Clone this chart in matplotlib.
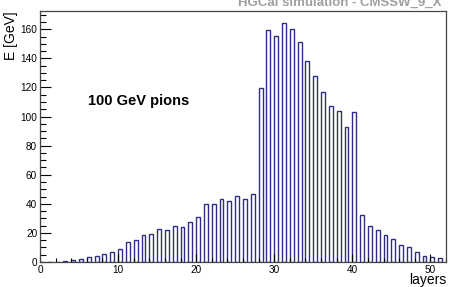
import matplotlib
matplotlib.use("Agg")
import matplotlib.pyplot as plt
from matplotlib.ticker import MultipleLocator

layers = list(range(52))
energy = [0, 0, 0, 0.7, 1.4, 2.1, 3.1, 4.0, 5.2, 7.2,
          9.2, 13.7, 15.3, 18.4, 19.1, 22.4, 21.8, 25.0, 24.4, 27.2,
          31.2, 40.2, 39.8, 43.5, 42.2, 45.1, 43.5, 46.5, 119.4, 159.4,
          155.5, 164.4, 159.9, 151.0, 137.9, 127.8, 117.1, 107.1, 104.1, 92.7,
          103.4, 32.2, 24.9, 21.7, 18.3, 15.5, 11.4, 10.0, 6.8, 4.3,
          3.2, 2.5]

plt.rcParams['font.family'] = ['Liberation Sans', 'DejaVu Sans']

fig = plt.figure(figsize=(4.49, 2.87), dpi=100)
ax = fig.add_axes([40/449, 25/287, 406/449, 251/287])

ax.bar(layers, energy, width=0.5, align='edge', facecolor='white',
       edgecolor='#2e2e86', linewidth=1.0)

ax.set_xlim(0, 52)
ax.set_ylim(0, 172.6)

ax.xaxis.set_major_locator(MultipleLocator(10))
ax.xaxis.set_minor_locator(MultipleLocator(2))
ax.yaxis.set_major_locator(MultipleLocator(20))
ax.yaxis.set_minor_locator(MultipleLocator(5))

ax.tick_params(axis='x', which='major', direction='in', length=6, width=0.8,
               labelsize=7.2, pad=2, top=False)
ax.tick_params(axis='x', which='minor', direction='in', length=3, width=0.8, top=False)
ax.tick_params(axis='y', which='major', direction='in', length=8, width=0.8,
               labelsize=7.2, pad=2, right=False)
ax.tick_params(axis='y', which='minor', direction='in', length=4, width=0.8, right=False)

for s in ax.spines.values():
    s.set_color('#444444')
    s.set_linewidth(0.9)

ax.set_xlabel('layers', fontsize=10, loc='right', labelpad=-1)
ax.set_ylabel('E [GeV]', fontsize=10, loc='top')
ax.yaxis.set_label_coords(-0.055, 1.0)

ax.text(6.1, 111, '100 GeV pions', fontsize=10.5, fontweight='bold',
        va='center', ha='left')

fig.text(442/449, 1 - 6/287, 'HGCal simulation - CMSSW_9_X', fontsize=9.5,
         fontweight='bold', color='#a0a0a0', ha='right', va='baseline')

fig.savefig('out.png', dpi=100)
